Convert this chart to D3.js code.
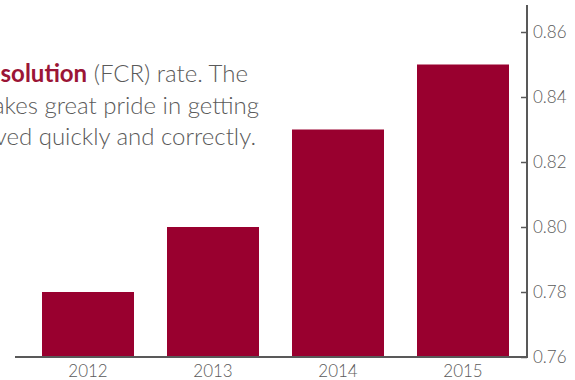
<!DOCTYPE html>
<html>
<head>
<meta charset="utf-8">
<script src="https://cdn.jsdelivr.net/npm/d3@7/dist/d3.min.js"></script>
<style>
  html, body { margin: 0; padding: 0; background: #fff; overflow: hidden; }
  svg { display: block; }
  text { font-family: Lato, "Open Sans", sans-serif; font-weight: 300; }
</style>
</head>
<body>
<svg id="chart" width="575" height="380"></svg>
<script>
const years = ["2012", "2013", "2014", "2015"];
const fcrRate = [0.78, 0.80, 0.83, 0.85];
const yTicks = [0.76, 0.78, 0.80, 0.82, 0.84, 0.86];
const noteLines = [
  [{t: "Our First Contact ", b: false}, {t: "Resolution", b: true}, {t: " (FCR) rate. The", b: false}],
  [{t: "company takes great pride in getting", b: false}],
  [{t: "customer issues resolved quickly and correctly.", b: false}]
];

const W = 575, H = 380;
const axisX = 527, baseY = 357, topY = 5;
const barColor = "#99002f";
const axisColor = "#595959";
const textColor = "#5a5a5a";

const svg = d3.select("#chart");

const x = d3.scaleBand().domain(years).range([17, 534]).paddingInner(0.264).paddingOuter(0.2);
const y = d3.scaleLinear().domain([0.76, 0.86]).range([baseY, 32]);

// bars
svg.append("g").selectAll("rect").data(years).join("rect")
  .attr("x", d => x(d))
  .attr("width", x.bandwidth())
  .attr("y", (d, i) => y(fcrRate[i]))
  .attr("height", (d, i) => baseY - y(fcrRate[i]))
  .attr("fill", barColor);

// x axis
const xAxis = svg.append("g").attr("transform", `translate(0,${baseY})`)
  .call(d3.axisBottom(x).tickSize(0).tickPadding(8));
xAxis.select(".domain").remove();
xAxis.selectAll("text").attr("fill", textColor).style("font-size", "17px").style("font-family", "Lato, sans-serif");
svg.append("line").attr("x1", 15).attr("x2", axisX).attr("y1", baseY).attr("y2", baseY)
  .attr("stroke", axisColor).attr("stroke-width", 2);

// y axis (right)
const yAxis = svg.append("g").attr("transform", `translate(${axisX},0)`)
  .call(d3.axisRight(y).tickValues(yTicks).tickFormat(d3.format(".2f")).tickSize(-6).tickPadding(6));
yAxis.select(".domain").remove();
yAxis.selectAll(".tick line").attr("stroke", axisColor).attr("stroke-width", 1.5);
yAxis.selectAll("text").attr("fill", textColor).style("font-size", "17px").style("font-family", "Lato, sans-serif");
svg.append("line").attr("x1", axisX).attr("x2", axisX).attr("y1", topY).attr("y2", baseY + 1)
  .attr("stroke", axisColor).attr("stroke-width", 2);

// annotation text (left part runs off the left edge, as in the reference)
const ends = [248, 259, 256];
const baselines = [82, 114, 145];
noteLines.forEach((parts, i) => {
  const t = svg.append("text")
    .attr("x", ends[i]).attr("y", baselines[i])
    .attr("text-anchor", "end")
    .style("font-size", "24px")
    .attr("fill", textColor);
  parts.forEach(p => {
    t.append("tspan").text(p.t)
      .attr("fill", p.b ? "#9b1536" : textColor)
      .style("font-weight", p.b ? 700 : 300);
  });
});
</script>
</body>
</html>
